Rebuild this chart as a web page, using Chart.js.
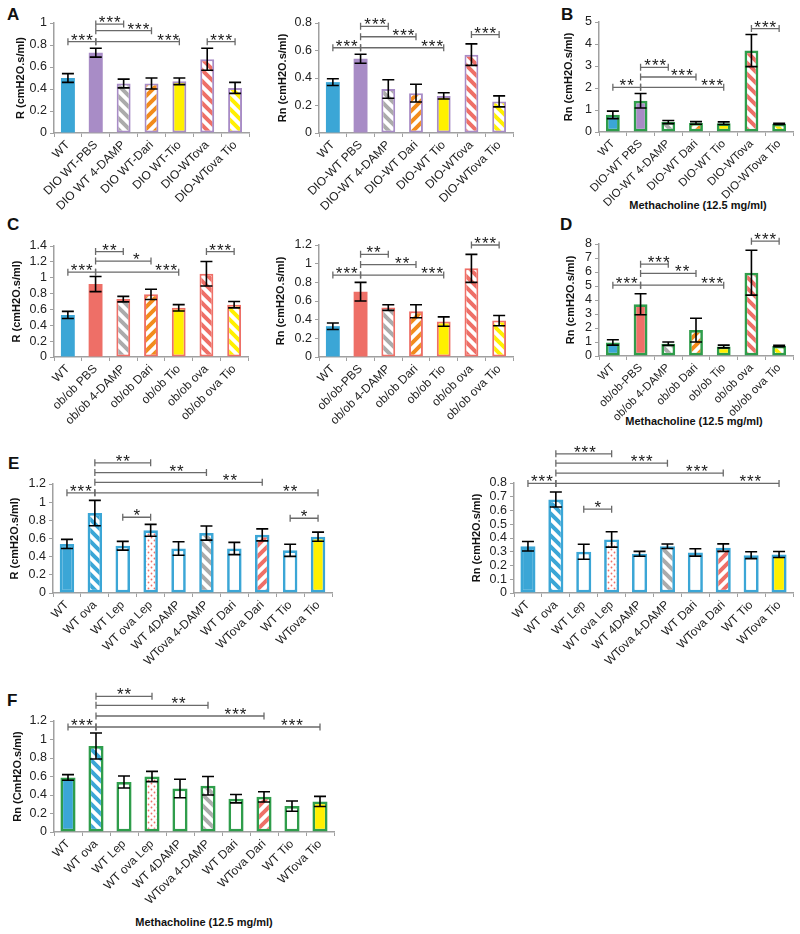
<!DOCTYPE html>
<html><head><meta charset="utf-8">
<script src="https://cdn.jsdelivr.net/npm/chart.js@4.4.1/dist/chart.umd.min.js"></script>
<style>
html,body{margin:0;padding:0;background:#fff;}
#wrap{position:relative;width:800px;height:934px;overflow:hidden;font-family:"Liberation Sans",Arial,sans-serif;}
#wrap canvas{position:absolute;}
.lt{position:absolute;font-weight:bold;font-size:17px;line-height:17px;color:#111;}
.xt{position:absolute;font-weight:bold;font-size:11px;line-height:13px;white-space:nowrap;transform:translate(-50%,-50%);color:#111;}
</style></head>
<body><div id="wrap">
<div class="lt" style="left:7px;top:6px">A</div>
<div class="lt" style="left:561px;top:6px">B</div>
<div class="lt" style="left:7px;top:216px">C</div>
<div class="lt" style="left:560px;top:216px">D</div>
<div class="lt" style="left:8px;top:455px">E</div>
<div class="lt" style="left:7px;top:692px">F</div>
<div class="xt" style="left:698px;top:205px">Methacholine (12.5 mg/ml)</div>
<div class="xt" style="left:694px;top:421px">Methacholine (12.5 mg/ml)</div>
<div class="xt" style="left:204px;top:922px">Methacholine (12.5 mg/ml)</div>
</div>
<script>
// ---------- categories ----------
const catsA1 = ['WT','DIO WT-PBS','DIO WT 4-DAMP','DIO WT-Dari','DIO WT-Tio','DIO-WTova','DIO-WTova Tio'];
const catsA2 = ['WT','DIO-WT PBS','DIO-WT 4-DAMP','DIO-WT Dari','DIO-WT Tio','DIO-WTova','DIO-WTova Tio'];
const catsB  = ['WT','DIO-WT PBS','DIO-WT 4-DAMP','DIO-WT Dari','DIO-WT Tio','DIO-WTova','DIO-WTova Tio'];
const catsC1 = ['WT','ob/ob PBS','ob/ob 4-DAMP','ob/ob Dari','ob/ob Tio','ob/ob ova','ob/ob ova Tio'];
const catsC2 = ['WT','ob/ob-PBS','ob/ob 4-DAMP','ob/ob Dari','ob/ob Tio','ob/ob ova','ob/ob ova Tio'];
const catsD  = ['WT','ob/ob-PBS','ob/ob 4-DAMP','ob/ob Dari','ob/ob Tio','ob/ob ova','ob/ob ova Tio'];
const catsE  = ['WT','WT ova','WT Lep','WT ova Lep','WT 4DAMP','WTova 4-DAMP','WT Dari','WTova Dari','WT Tio','WTova Tio'];

// ---------- values (means) and error bars ----------
const aR    = [0.50, 0.73, 0.45, 0.45, 0.47, 0.67, 0.41];
const aRErr = [0.04, 0.04, 0.04, 0.05, 0.03, 0.10, 0.05];
const aRn    = [0.37, 0.54, 0.32, 0.29, 0.27, 0.57, 0.23];
const aRnErr = [0.025, 0.033, 0.067, 0.065, 0.023, 0.078, 0.04];
const bRn    = [0.78, 1.42, 0.45, 0.41, 0.40, 3.70, 0.37];
const bRnErr = [0.17, 0.33, 0.07, 0.06, 0.06, 0.73, 0.03];
const cR    = [0.53, 0.92, 0.73, 0.79, 0.62, 1.05, 0.66];
const cRErr = [0.045, 0.095, 0.035, 0.065, 0.04, 0.155, 0.04];
const cRn    = [0.33, 0.70, 0.53, 0.49, 0.38, 0.95, 0.39];
const cRnErr = [0.035, 0.10, 0.03, 0.07, 0.05, 0.15, 0.055];
const dRn    = [0.97, 3.70, 0.88, 1.85, 0.68, 5.95, 0.72];
const dRnErr = [0.19, 0.75, 0.12, 0.85, 0.10, 1.60, 0.05];
const eR    = [0.54, 0.88, 0.52, 0.69, 0.49, 0.66, 0.49, 0.64, 0.47, 0.62];
const eRErr = [0.05, 0.14, 0.048, 0.065, 0.075, 0.078, 0.067, 0.066, 0.067, 0.05];
const eRn    = [0.34, 0.68, 0.30, 0.39, 0.285, 0.34, 0.295, 0.33, 0.275, 0.28];
const eRnErr = [0.035, 0.055, 0.055, 0.056, 0.018, 0.016, 0.027, 0.027, 0.025, 0.022];
const fRn    = [0.59, 0.93, 0.54, 0.60, 0.47, 0.50, 0.36, 0.38, 0.28, 0.33];
const fRnErr = [0.03, 0.14, 0.065, 0.055, 0.10, 0.10, 0.045, 0.055, 0.055, 0.055];

// ---------- significance brackets: [from, to, level (axis units), text, label position] ----------
const aRSig  = [[0,1,0.83,'***',0.5],[1,2,0.99,'***',1.5],[1,3,0.93,'***',2.53],[1,4,0.83,'***',3.6],[5,6,0.83,'***',5.5]];
const aRnSig = [[0,1,0.62,'***',0.5],[1,2,0.776,'***',1.53],[1,3,0.70,'***',2.55],[1,4,0.62,'***',3.58],[5,6,0.716,'***',5.5]];
const bSig   = [[0,1,2.03,'**',0.5],[1,2,2.94,'***',1.53],[1,3,2.5,'***',2.49],[1,4,2.03,'***',3.58],[5,6,4.7,'***',5.5]];
const cRSig  = [[0,1,1.07,'***',0.5],[1,2,1.33,'**',1.5],[1,3,1.21,'*',2.47],[1,4,1.07,'***',3.55],[5,6,1.33,'***',5.5]];
const cRnSig = [[0,1,0.878,'***',0.5],[1,2,1.10,'**',1.47],[1,3,0.99,'**',2.5],[1,4,0.878,'***',3.58],[5,6,1.2,'***',5.5]];
const dSig   = [[0,1,5.06,'***',0.5],[1,2,6.56,'***',1.65],[1,3,5.9,'**',2.5],[1,4,5.06,'***',3.58],[5,6,8.2,'***',5.5]];
const eRSig  = [[0,1,1.103,'***',0.5],[1,3,1.433,'**',2],[1,5,1.326,'**',3.93],[1,7,1.218,'**',5.84],[1,9,1.103,'**',8.0],[2,3,0.834,'*',2.5],[8,9,0.823,'*',8.5]];
const eRnSig = [[0,1,0.797,'***',0.5],[1,3,1.012,'***',2.04],[1,5,0.944,'***',4.08],[1,7,0.872,'***',6.06],[1,9,0.797,'***',7.97],[2,3,0.61,'*',2.5]];
const fSig   = [[0,1,1.135,'***',0.5],[1,3,1.467,'**',2],[1,5,1.37,'**',3.95],[1,7,1.254,'***',5.98],[1,9,1.135,'***',8.0]];

// ---------- styles ----------
const BLUE='#3ba6d6', PURPLE='#a88cc6', SALMON='#ee6f67', ORANGE='#f28b1c', GRAY='#ababab', YELLOW='#fff000', GREEN='#2f9d4b', WHITE='#ffffff';
const FONT='"Liberation Sans", Arial, sans-serif';

function stripes(color, dir, p=11, w=4){
  const c=document.createElement('canvas'); c.width=c.height=p;
  const g=c.getContext('2d'); g.fillStyle='#fff'; g.fillRect(0,0,p,p);
  g.strokeStyle=color; g.lineWidth=w; g.beginPath();
  for(const o of [-p,0,p]){
    if(dir==='\\'){ g.moveTo(o-2,-2); g.lineTo(o+p+2,p+2); }
    else { g.moveTo(o-2,p+2); g.lineTo(o+p+2,-2); }
  }
  g.stroke();
  return g.createPattern(c,'repeat');
}
function dots(color){
  const c=document.createElement('canvas'); c.width=c.height=6;
  const g=c.getContext('2d'); g.fillStyle='#fff'; g.fillRect(0,0,6,6);
  g.fillStyle=color;
  g.beginPath(); g.arc(1.5,1.5,0.9,0,Math.PI*2); g.arc(4.5,4.5,0.9,0,Math.PI*2); g.fill();
  return g.createPattern(c,'repeat');
}

const fillsA = [BLUE, PURPLE, stripes(GRAY,'\\'), stripes(ORANGE,'/'), YELLOW, stripes(SALMON,'\\'), stripes(YELLOW,'\\')];
const fillsC = [BLUE, SALMON, stripes(GRAY,'\\'), stripes(ORANGE,'/'), YELLOW, stripes(SALMON,'\\'), stripes(YELLOW,'\\')];
const fillsE = [BLUE, stripes(BLUE,'\\'), WHITE, dots(SALMON), WHITE, stripes(GRAY,'\\'), WHITE, stripes(SALMON,'/'), WHITE, YELLOW];

const extras = {};
const annot = {
  id:'annot',
  afterDatasetsDraw(chart){
    const ex=extras[chart.canvas.id]; if(!ex) return;
    const ctx=chart.ctx, xs=chart.scales.x, ys=chart.scales.y, meta=chart.getDatasetMeta(0);
    ctx.save();
    ctx.strokeStyle='#000'; ctx.lineWidth=1.6;
    ex.values.forEach((v,i)=>{
      const e=ex.errors[i], x=meta.data[i].x;
      const y1=ys.getPixelForValue(v+e), y2=ys.getPixelForValue(Math.max(0,v-e));
      ctx.beginPath();
      ctx.moveTo(x,y1); ctx.lineTo(x,y2);
      ctx.moveTo(x-6,y1); ctx.lineTo(x+6,y1);
      ctx.moveTo(x-6,y2); ctx.lineTo(x+6,y2);
      ctx.stroke();
    });
    ctx.strokeStyle='#6a6a6a'; ctx.lineWidth=1.3;
    ctx.fillStyle='#1a1a1a'; ctx.font='17px '+FONT; ctx.textAlign='center'; ctx.textBaseline='alphabetic';
    ctx.letterSpacing='1px';
    ex.sig.forEach(([a,b,lv,t,lx])=>{
      const x1=xs.getPixelForValue(a), x2=xs.getPixelForValue(b), y=ys.getPixelForValue(lv);
      ctx.beginPath();
      ctx.moveTo(x1,y); ctx.lineTo(x2,y);
      ctx.moveTo(x1,y-3.5); ctx.lineTo(x1,y+3.5);
      ctx.moveTo(x2,y-3.5); ctx.lineTo(x2,y+3.5);
      ctx.stroke();
      ctx.fillText(t, xs.getPixelForValue(lx)+0.5, y+4);
    });
    ctx.restore();
  }
};

function makeChart(id, s){
  const [cx,cy,cw,ch]=s.canvas, [pl,pt,pr,pb]=s.plot;
  const cv=document.createElement('canvas');
  cv.id=id; cv.width=cw; cv.height=ch;
  cv.style.left=cx+'px'; cv.style.top=cy+'px'; cv.style.width=cw+'px'; cv.style.height=ch+'px';
  document.getElementById('wrap').appendChild(cv);
  extras[id]={values:s.values, errors:s.errors, sig:s.sig};
  new Chart(cv,{
    type:'bar',
    data:{labels:s.labels, datasets:[{
      data:s.values,
      backgroundColor:s.fills,
      borderColor:s.borders,
      borderWidth:s.bw,
      borderSkipped:false,
      barPercentage:s.barPct, categoryPercentage:1
    }]},
    options:{
      responsive:false, animation:false, events:[], devicePixelRatio:1,
      layout:{padding:{top:pt-cy, right:(cx+cw)-pr, left:0, bottom:0}},
      plugins:{legend:{display:false}, tooltip:{enabled:false}},
      scales:{
        x:{
          offset:true,
          grid:{display:true, drawOnChartArea:false, drawTicks:true, tickLength:4, offset:true, color:'#a0a0a0', lineWidth:1},
          border:{color:'#a0a0a0', width:1.5},
          ticks:{autoSkip:false, minRotation:45, maxRotation:45, padding:1, color:'#222', font:{family:FONT, size:s.xFont||12}},
          afterFit:(sc)=>{ sc.height=(cy+ch)-pb; }
        },
        y:{
          min:0, max:s.yMax,
          grid:{display:true, drawOnChartArea:false, drawTicks:true, tickLength:4, color:'#a0a0a0'},
          border:{color:'#a0a0a0', width:1.5},
          ticks:{stepSize:s.yStep, autoSkip:false, padding:3, color:'#222', font:{family:FONT, size:12.5},
                 callback:(v)=>String(Number(v.toFixed(2)))},
          title:{display:true, text:s.yTitle, color:'#111', font:{family:FONT, size:11, weight:'bold'},
                 padding:{top:s.titleX-cx-6.6, bottom:0}},
          afterFit:(sc)=>{ sc.width=pl-cx; }
        }
      }
    },
    plugins:[annot]
  });
}

const B7=[0,0,2,2,2,2,2];
makeChart('cA1',{canvas:[0,0,258,222], plot:[54,23,249,133], labels:catsA1, values:aR, errors:aRErr, sig:aRSig,
  fills:fillsA, borders:[BLUE,PURPLE,PURPLE,PURPLE,PURPLE,PURPLE,PURPLE], bw:B7, barPct:0.5,
  yMax:1, yStep:0.2, yTitle:'R (cmH2O.s/ml)', titleX:21});
makeChart('cA2',{canvas:[258,0,272,222], plot:[319,23,513,133], labels:catsA2, values:aRn, errors:aRnErr, sig:aRnSig,
  fills:fillsA, borders:[BLUE,PURPLE,PURPLE,PURPLE,PURPLE,PURPLE,PURPLE], bw:B7, barPct:0.5,
  yMax:0.8, yStep:0.2, yTitle:'Rn (cmH2O.s/ml)', titleX:282.5});
makeChart('cB',{canvas:[530,0,270,212], plot:[599,22,793,132], labels:catsB, values:bRn, errors:bRnErr, sig:bSig,
  fills:fillsA, borders:Array(7).fill(GREEN), bw:Array(7).fill(2.7), barPct:0.5, xFont:11.5,
  yMax:5, yStep:1, yTitle:'Rn (cmH2O.s/ml)', titleX:569});
makeChart('cC1',{canvas:[0,222,258,218], plot:[54,246,248,357], labels:catsC1, values:cR, errors:cRErr, sig:cRSig,
  fills:fillsC, borders:[BLUE,SALMON,SALMON,SALMON,SALMON,SALMON,SALMON], bw:B7, barPct:0.5,
  yMax:1.4, yStep:0.2, yTitle:'R (cmH2O.s/ml)', titleX:17});
makeChart('cC2',{canvas:[258,222,272,218], plot:[319,245,513,357], labels:catsC2, values:cRn, errors:cRnErr, sig:cRnSig,
  fills:fillsC, borders:[BLUE,SALMON,SALMON,SALMON,SALMON,SALMON,SALMON], bw:B7, barPct:0.5,
  yMax:1.2, yStep:0.2, yTitle:'Rn (cmH2O.s/ml)', titleX:281});
makeChart('cD',{canvas:[530,225,270,205], plot:[599,244,793,356], labels:catsD, values:dRn, errors:dRnErr, sig:dSig,
  fills:fillsC, borders:Array(7).fill(GREEN), bw:Array(7).fill(2.7), barPct:0.5, xFont:11.5,
  yMax:8, yStep:1, yTitle:'Rn (cmH2O.s/ml)', titleX:570.5});
makeChart('cE1',{canvas:[0,440,400,240], plot:[53,484,332,593], labels:catsE, values:eR, errors:eRErr, sig:eRSig,
  fills:fillsE, borders:Array(10).fill(BLUE), bw:Array(10).fill(2.7), barPct:0.52,
  yMax:1.2, yStep:0.2, yTitle:'R (cmH2O.s/ml)', titleX:15});
makeChart('cE2',{canvas:[400,440,400,240], plot:[514,483,793,593], labels:catsE, values:eRn, errors:eRnErr, sig:eRnSig,
  fills:fillsE, borders:Array(10).fill(BLUE), bw:Array(10).fill(2.7), barPct:0.54,
  yMax:0.8, yStep:0.1, yTitle:'Rn (cmH2O.s/ml)', titleX:477});
makeChart('cF',{canvas:[0,680,400,230], plot:[54,721,334,832], labels:catsE, values:fRn, errors:fRnErr, sig:fSig,
  fills:fillsE, borders:Array(10).fill(GREEN), bw:Array(10).fill(2.7), barPct:0.54,
  yMax:1.2, yStep:0.2, yTitle:'Rn (CmH2O.s/ml)', titleX:17.5});
</script>
</body></html>
